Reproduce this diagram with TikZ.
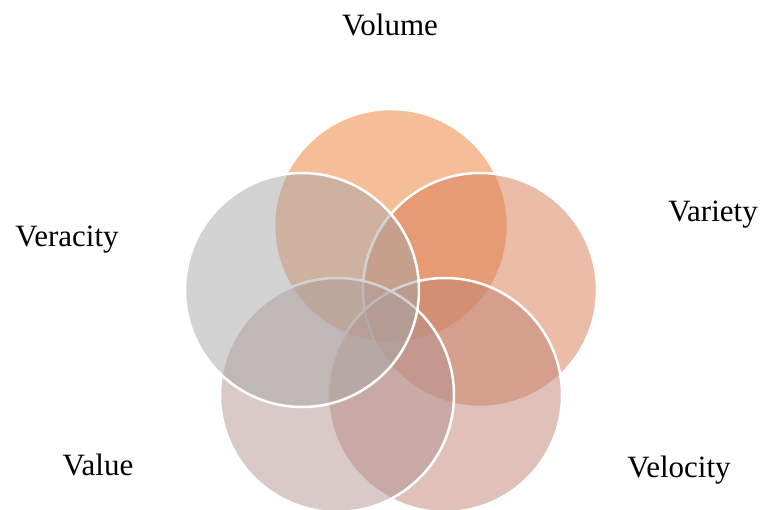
\documentclass[tikz,border=0pt]{standalone}
\usepackage{fontspec}
\setmainfont{Liberation Serif}
\definecolor{cvolume}{HTML}{ED7D31}
\definecolor{cvariety}{HTML}{D77951}
\definecolor{cvelocity}{HTML}{C18373}
\definecolor{cvalue}{HTML}{B39393}
\definecolor{cveracity}{HTML}{A7A7A7}
\begin{document}
\begin{tikzpicture}[x=1pt,y=-1pt,
  venn/.style={draw=white,line width=2.5pt,fill opacity=0.5,draw opacity=1},
  lbl/.style={font=\fontsize{31}{35}\selectfont,anchor=base,inner sep=0pt}]
\useasboundingbox (0,0) rectangle (760,510);
\path[venn,fill=cvolume] (391,226) circle (117);
\path[venn,fill=cvariety] (480,290) circle (117);
\path[venn,fill=cvelocity] (445,395) circle (117);
\path[venn,fill=cvalue] (337,395) circle (117);
\path[venn,fill=cveracity] (302,290) circle (117);
\node[lbl] (volume) at (390,36) {Volume};
\node[lbl] (variety) at (713,222) {Variety};
\node[lbl] (velocity) at (679,477) {Velocity};
\node[lbl] (value) at (98,475) {Value};
\node[lbl] (veracity) at (67,247) {Veracity};
\end{tikzpicture}
\end{document}
